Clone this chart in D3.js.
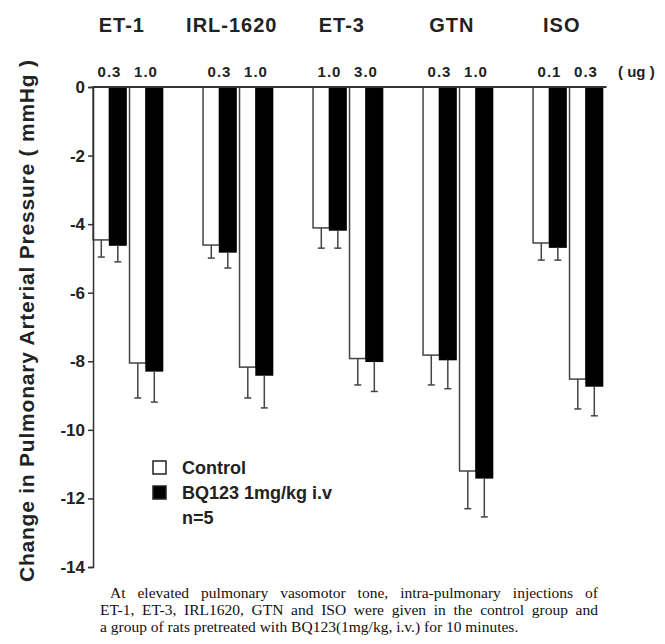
<!DOCTYPE html>
<html>
<head>
<meta charset="utf-8">
<script src="https://cdn.jsdelivr.net/npm/d3@7"></script>
<style>
  body { margin: 0; background: #fff; }
  svg { display: block; }
</style>
</head>
<body>
<div id="chart"></div>
<script>
// groups and the two doses given for each one (ug)
const groups = ["ET-1", "IRL-1620", "ET-3", "GTN", "ISO"];
const doses = [["0.3", "1.0"], ["0.3", "1.0"], ["1.0", "3.0"], ["0.3", "1.0"], ["0.1", "0.3"]];

// change in pulmonary arterial pressure (mmHg), one value per group/dose, in order
const controlMean = [-4.46, -8.05, -4.61, -8.17, -4.11, -7.92, -7.82, -11.2, -4.55, -8.52];
const controlSE   = [0.50, 1.02, 0.38, 0.90, 0.59, 0.77, 0.87, 1.10, 0.50, 0.87];
const bqMean      = [-4.61, -8.28, -4.81, -8.40, -4.17, -8.00, -7.95, -11.4, -4.67, -8.72];
const bqSE        = [0.49, 0.91, 0.47, 0.96, 0.53, 0.88, 0.85, 1.14, 0.38, 0.87];

const yTicks = [0, -2, -4, -6, -8, -10, -12, -14];
const legendLabels = ["Control", "BQ123 1mg/kg i.v", "n=5"];
const caption = [
  "At elevated pulmonary vasomotor tone, intra-pulmonary injections of",
  "ET-1, ET-3, IRL1620, GTN and ISO were given in the control group and",
  "a group of rats pretreated with BQ123(1mg/kg, i.v.) for 10 minutes."
];

const width = 665, height = 644;
const sans = "'Liberation Sans', Arial, Helvetica, sans-serif";

const svg = d3.select("#chart")
  .append("svg")
    .attr("width", width)
    .attr("height", height);

// scales
const y = d3.scaleLinear().domain([-14, 0]).range([567, 87]);

const x = d3.scaleBand()
  .domain(groups)
  .range([72.8, 622.8])
  .paddingInner(0.368)
  .paddingOuter(0.184);

const xDose = d3.scaleBand()
  .domain([0, 1])
  .range([0, x.bandwidth()])
  .paddingInner(0.095);

const xSeries = d3.scaleBand()
  .domain(["control", "bq"])
  .range([0, xDose.bandwidth()]);

// flatten into bars
const bars = [];
groups.forEach((g, gi) => {
  [0, 1].forEach(di => {
    const i = gi * 2 + di;
    bars.push({ group: g, dose: di, series: "control", mean: controlMean[i], se: controlSE[i] });
    bars.push({ group: g, dose: di, series: "bq", mean: bqMean[i], se: bqSE[i] });
  });
});
const barX = d => x(d.group) + xDose(d.dose) + xSeries(d.series);

// bars
svg.append("g")
  .selectAll("rect")
  .data(bars)
  .join("rect")
    .attr("x", d => barX(d))
    .attr("y", y(0))
    .attr("width", xSeries.bandwidth())
    .attr("height", d => y(d.mean) - y(0))
    .attr("fill", d => d.series === "bq" ? "#000" : "#fff")
    .attr("stroke", d => d.series === "bq" ? "#000" : "#444")
    .attr("stroke-width", 1.5);

// error bars (downward only)
const err = svg.append("g")
  .attr("stroke", "#444")
  .attr("stroke-width", 1.5)
  .selectAll("g")
  .data(bars)
  .join("g");
err.append("line")
  .attr("x1", d => barX(d) + xSeries.bandwidth() / 2)
  .attr("x2", d => barX(d) + xSeries.bandwidth() / 2)
  .attr("y1", d => y(d.mean))
  .attr("y2", d => y(d.mean - d.se));
err.append("line")
  .attr("x1", d => barX(d) + xSeries.bandwidth() / 2 - 3.5)
  .attr("x2", d => barX(d) + xSeries.bandwidth() / 2 + 3.5)
  .attr("y1", d => y(d.mean - d.se))
  .attr("y2", d => y(d.mean - d.se));

// y axis
const axisX = x(groups[0]);
const yAxis = svg.append("g")
  .attr("transform", `translate(${axisX},0)`)
  .call(d3.axisLeft(y).tickValues(yTicks).tickSize(5).tickPadding(3).tickFormat(d => String(d)));
yAxis.select(".domain").attr("stroke", "#333").attr("stroke-width", 1.5);
yAxis.selectAll(".tick line").attr("stroke", "#333").attr("stroke-width", 1.5);
yAxis.selectAll(".tick text")
  .attr("fill", "#222")
  .style("font-family", sans)
  .style("font-size", "17px")
  .style("font-weight", "bold");

// zero line across the top
svg.append("line")
  .attr("x1", axisX)
  .attr("x2", x(groups[groups.length - 1]) + x.bandwidth() + 4)
  .attr("y1", y(0))
  .attr("y2", y(0))
  .attr("stroke", "#333")
  .attr("stroke-width", 2);

// group titles
svg.append("g")
  .selectAll("text")
  .data(groups)
  .join("text")
    .attr("x", d => x(d) + x.bandwidth() / 2 - 6)
    .attr("y", 32)
    .attr("text-anchor", "middle")
    .style("font-family", sans)
    .style("font-size", "20px")
    .style("font-weight", "bold")
    .style("letter-spacing", "1px")
    .attr("fill", "#222")
    .text(d => d);

// dose labels
const doseLabels = [];
groups.forEach((g, gi) => doses[gi].forEach((t, di) => doseLabels.push({ group: g, dose: di, text: t })));
svg.append("g")
  .selectAll("text")
  .data(doseLabels)
  .join("text")
    .attr("x", d => x(d.group) + xDose(d.dose) + xDose.bandwidth() / 2)
    .attr("y", 77)
    .attr("text-anchor", "middle")
    .style("font-family", sans)
    .style("font-size", "15px")
    .style("font-weight", "bold")
    .style("letter-spacing", "1px")
    .attr("fill", "#222")
    .text(d => d.text);

svg.append("text")
  .attr("x", 618)
  .attr("y", 77)
  .style("font-family", sans)
  .style("font-size", "15px")
  .style("font-weight", "bold")
  .attr("fill", "#222")
  .text("( ug )");

// y axis title
svg.append("text")
  .attr("transform", "translate(34,321) rotate(-90)")
  .attr("text-anchor", "middle")
  .attr("textLength", 522)
  .attr("lengthAdjust", "spacing")
  .style("font-family", sans)
  .style("font-size", "21px")
  .style("font-weight", "bold")
  .attr("fill", "#222")
  .text("Change in Pulmonary Arterial Pressure ( mmHg )");

// legend
const legend = svg.append("g").attr("transform", "translate(153,0)");
const legendY = [468, 493, 518];
legend.selectAll("rect")
  .data(["#fff", "#000"])
  .join("rect")
    .attr("x", 0)
    .attr("y", (d, i) => legendY[i] - 7)
    .attr("width", 13)
    .attr("height", 13)
    .attr("fill", d => d)
    .attr("stroke", "#222")
    .attr("stroke-width", 1.5);
legend.selectAll("text")
  .data(legendLabels)
  .join("text")
    .attr("x", 29)
    .attr("y", (d, i) => legendY[i] + 6)
    .style("font-family", sans)
    .style("font-size", "18px")
    .style("font-weight", "bold")
    .attr("fill", "#222")
    .text(d => d);

// caption, first two lines justified
const captionX = [110, 100, 100];
const cap = svg.append("g")
  .selectAll("text")
  .data(caption)
  .join("text")
    .attr("x", (d, i) => captionX[i])
    .attr("y", (d, i) => 598 + i * 17)
    .style("font-family", "'Liberation Serif', 'Times New Roman', serif")
    .style("font-size", "15.5px")
    .attr("fill", "#111")
    .text(d => d);
cap.each(function(d, i) {
  if (i === caption.length - 1) return;
  const natural = this.getComputedTextLength();
  const spaces = d.split(" ").length - 1;
  const target = 598 - captionX[i];
  d3.select(this).style("word-spacing", ((target - natural) / spaces) + "px");
});
</script>
</body>
</html>
